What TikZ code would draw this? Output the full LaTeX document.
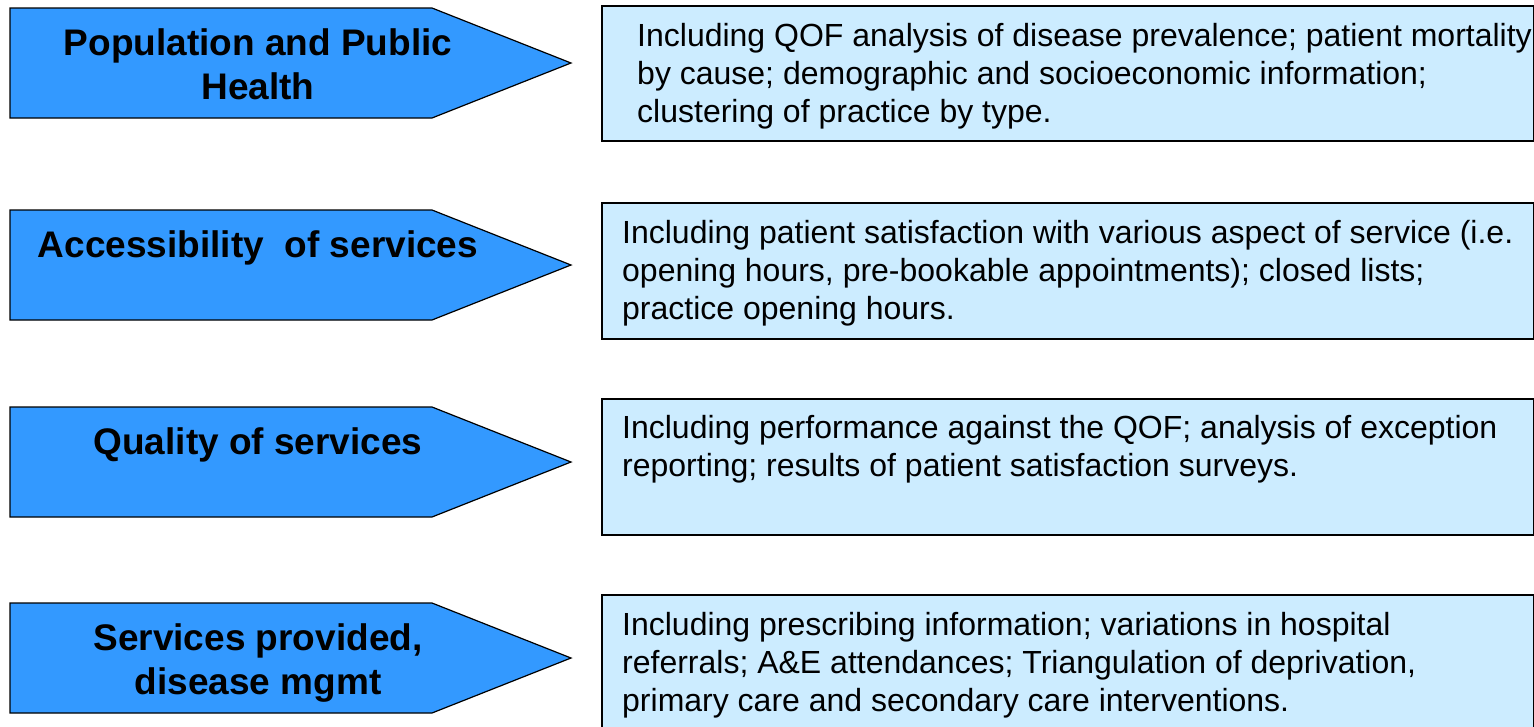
\documentclass[tikz,border=0pt]{standalone}
\usepackage{fontspec}
\setmainfont{Liberation Sans}
\definecolor{tagblue}{HTML}{3399FF}
\definecolor{infoblue}{HTML}{CCECFF}
\begin{document}
\begin{tikzpicture}[x=1pt,y=-1pt,
  tag/.style={fill=tagblue,draw=black,line width=1.2pt,line join=miter},
  tagtext/.style={font=\bfseries\fontsize{37}{44}\selectfont,align=center,anchor=base,inner sep=0pt},
  infobox/.style={fill=infoblue,draw=black,line width=1.6pt,anchor=north west,inner sep=0pt,minimum width=932pt},
  infotext/.style={font=\fontsize{32}{38}\selectfont,align=left,anchor=base west,inner sep=0pt}]
\clip (0,0) rectangle (1534,726);

% pointer-shaped headings: body from x=10 to 432, tip at x=571
\foreach \t in {8,210,407,603}{
  \draw[tag] (10,\t) -- (432,\t) -- (571,\t+55) -- (432,\t+110) -- (10,\t+110) -- cycle;
}
% multi-line nodes are placed by the baseline of their last line
\node[tagtext] (h1) at (258,99) {Population and Public\\Health};
\node[tagtext] (h2) at (258,257) {Accessibility\ \ of services};
\node[tagtext] (h3) at (258,454) {Quality of services};
\node[tagtext] (h4) at (258,694) {Services provided,\\disease mgmt};

% description boxes
\node[infobox,minimum height=135pt] (b1) at (601,5) {};
\node[infobox,minimum height=136pt] (b2) at (601,202) {};
\node[infobox,minimum height=136pt] (b3) at (601,398) {};
\node[infobox,minimum height=150pt] (b4) at (601,594) {};

\node[infotext] (t1) at (637,122) {Including QOF analysis of disease prevalence; patient mortality\\by cause; demographic and socioeconomic information;\\clustering of practice by type.};
\node[infotext] (t2) at (622,319) {Including patient satisfaction with various aspect of service (i.e.\\opening hours, pre-bookable appointments); closed lists;\\practice opening hours.};
\node[infotext] (t3) at (622,476) {Including performance against the QOF; analysis of exception\\reporting; results of patient satisfaction surveys.};
\node[infotext] (t4) at (622,711) {Including prescribing information; variations in hospital\\referrals; A\&E attendances; Triangulation of deprivation,\\primary care and secondary care interventions.};
\end{tikzpicture}
\end{document}
